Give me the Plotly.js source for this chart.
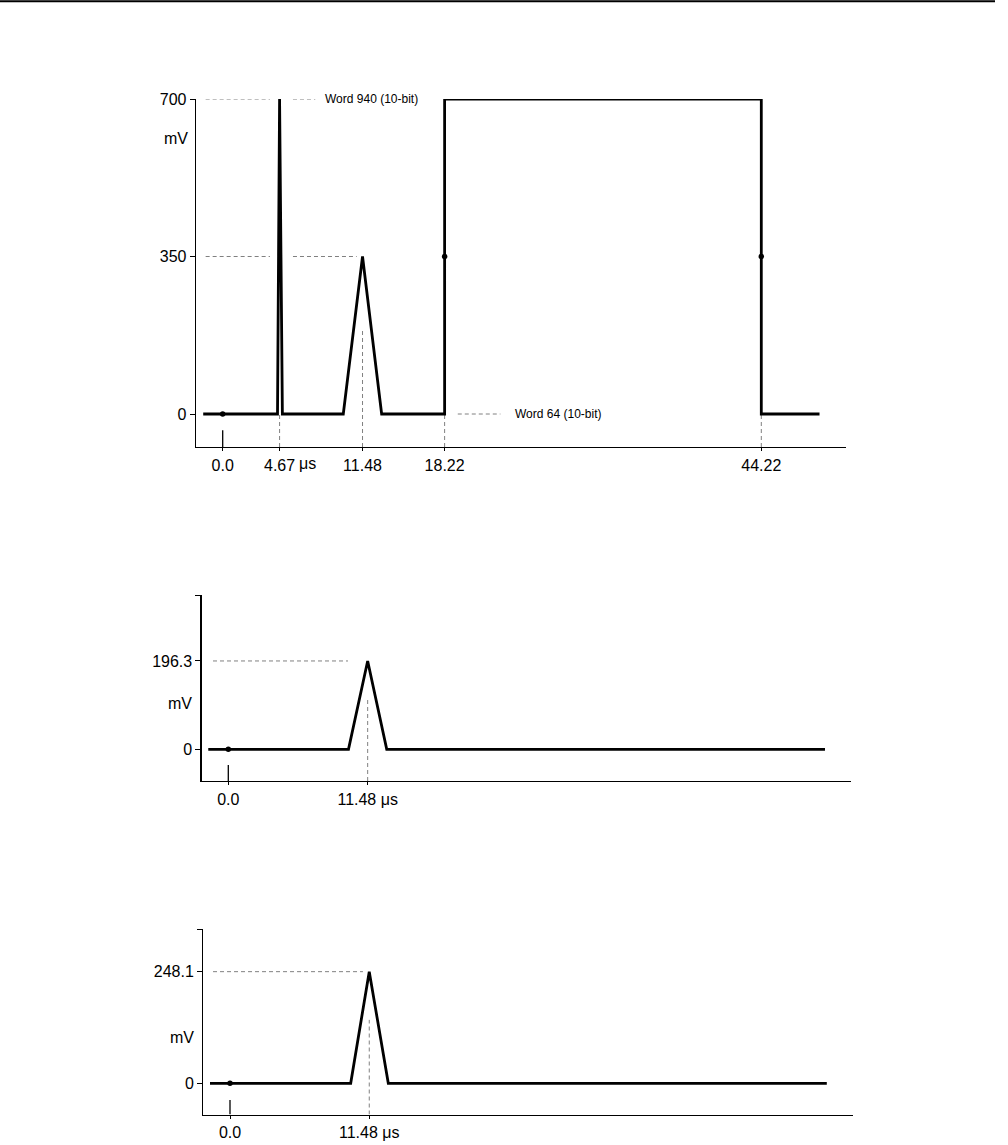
<!DOCTYPE html>
<html><head><meta charset="utf-8">
<script src="https://cdn.plot.ly/plotly-3.0.1.min.js"></script>
<style>html,body{margin:0;padding:0;background:#fff}</style>
</head><body><div id="chart" style="width:1008px;height:1145px"></div>
<script>
// ---------- data ----------
const topTime = [-1.6, 4.5, 4.67, 4.9, 9.9, 11.48, 13.05, 18.22, 18.22, 44.22, 44.22, 49.0];
const topMv   = [0, 0, 700, 0, 0, 350, 0, 0, 700, 700, 0, 0];
const topDotTime = [0, 18.22, 44.22];
const topDotMv   = [0, 350, 350];
const topXTicks  = [0, 4.67, 11.48, 18.22, 44.22];
const topXLabels = ['0.0', '4.67', '11.48', '18.22', '44.22'];
const topYTicks  = [0, 350, 700];
const topYLabels = ['0', '350', '700'];

const midTime = [-1.65, 9.9, 11.48, 13.05, 49.15];
const midMv   = [0, 0, 196.3, 0, 0];
const midDotTime = [0];
const midDotMv   = [0];
const midXTicks  = [0, 11.48];
const midXLabels = ['0.0', '11.48 μs'];
const midYTicks  = [0, 196.3];
const midYLabels = ['0', '196.3'];

const lowTime = [-1.65, 9.95, 11.48, 13.05, 49.2];
const lowMv   = [0, 0, 248.1, 0, 0];
const lowDotTime = [0];
const lowDotMv   = [0];
const lowXTicks  = [0, 11.48];
const lowXLabels = ['0.0', '11.48 μs'];
const lowYTicks  = [0, 248.1];
const lowYLabels = ['0', '248.1'];

const unitLabel = 'mV';
const word940 = 'Word 940 (10-bit)';
const word64  = 'Word 64 (10-bit)';

// ---------- layout geometry (pixels) ----------
const W = 1008, H = 1145;
const FONT = 'Liberation Sans, Arial, Helvetica, sans-serif';
const FS = 16;
function geom(g) {
  return {
    xdomain: [g.left / W, g.right / W],
    ydomain: [1 - g.bottom / H, 1 - g.top / H],
    xrange: [(g.left - g.x0) / g.xs, (g.right - g.x0) / g.xs],
    yrange: [(g.y0 - g.bottom) / g.ys, (g.y0 - g.top) / g.ys]
  };
}
const g1 = geom({left: 196, right: 845.7, top: 99, bottom: 447, x0: 222.7, y0: 414, xs: 12.18, ys: 0.45});
const g2 = geom({left: 201.7, right: 850.7, top: 595, bottom: 781, x0: 228.3, y0: 749.3, xs: 12.14, ys: 0.45});
const g3 = geom({left: 203.3, right: 852.7, top: 929.3, bottom: 1114.5, x0: 230, y0: 1083.3, xs: 12.13, ys: 0.45});

function xAxis(g, anchor, vals, text) {
  return {domain: g.xdomain, range: g.xrange, anchor: anchor, showgrid: false, zeroline: false,
    showline: true, linecolor: '#000', linewidth: 1.3, ticks: 'outside', ticklen: 3, tickwidth: 1,
    tickcolor: '#000', tickvals: vals, ticktext: text, tickfont: {family: FONT, size: FS, color: '#000'},
    fixedrange: true};
}
function yAxis(g, anchor, vals, text) {
  return {domain: g.ydomain, range: g.yrange, anchor: anchor, showgrid: false, zeroline: false,
    showline: true, linecolor: '#000', linewidth: 1.3, ticks: 'outside', ticklen: 5, tickwidth: 1,
    tickcolor: '#000', tickvals: vals, ticktext: text, tickfont: {family: FONT, size: FS, color: '#000'},
    fixedrange: true};
}

const lineStyle = {color: '#000', width: 2.8};
const dotStyle = {color: '#000', size: 5.5};
const traces = [
  {x: topTime, y: topMv, xaxis: 'x', yaxis: 'y', mode: 'lines', line: lineStyle, hoverinfo: 'skip'},
  {x: topDotTime, y: topDotMv, xaxis: 'x', yaxis: 'y', mode: 'markers', marker: dotStyle, hoverinfo: 'skip'},
  {x: midTime, y: midMv, xaxis: 'x2', yaxis: 'y2', mode: 'lines', line: lineStyle, hoverinfo: 'skip'},
  {x: midDotTime, y: midDotMv, xaxis: 'x2', yaxis: 'y2', mode: 'markers', marker: dotStyle, hoverinfo: 'skip'},
  {x: lowTime, y: lowMv, xaxis: 'x3', yaxis: 'y3', mode: 'lines', line: lineStyle, hoverinfo: 'skip'},
  {x: lowDotTime, y: lowDotMv, xaxis: 'x3', yaxis: 'y3', mode: 'markers', marker: dotStyle, hoverinfo: 'skip'}
];

const DASH = {color: '#808080', width: 1, dash: '4px,3px'};
function dl(xr, yr, x0, y0, x1, y1) {
  return {type: 'line', xref: xr, yref: yr, x0: x0, y0: y0, x1: x1, y1: y1, line: DASH, layer: 'below'};
}
function sl(xr, yr, x0, y0, x1, y1) {
  return {type: 'line', xref: xr, yref: yr, x0: x0, y0: y0, x1: x1, y1: y1, line: {color: '#000', width: 1.3}};
}
const shapes = [
  // header rule
  {type: 'line', xref: 'paper', yref: 'paper', x0: 0, x1: 995 / W, y0: 1 - 1.2 / H, y1: 1 - 1.2 / H, line: {color: '#000', width: 2}},
  // top chart
  dl('x', 'y', -1.4, topYTicks[2], 3.88, topYTicks[2]),
  dl('x', 'y', 5.77, topYTicks[2], 7.6, topYTicks[2]),
  dl('x', 'y', -1.4, topYTicks[1], 3.88, topYTicks[1]),
  dl('x', 'y', 5.77, topYTicks[1], 11.0, topYTicks[1]),
  dl('x', 'y', 19.3, 0, 22.8, 0),
  dl('x', 'y', topXTicks[1], g1.yrange[0], topXTicks[1], 0),
  dl('x', 'y', topXTicks[2], g1.yrange[0], topXTicks[2], 187),
  dl('x', 'y', topXTicks[3], g1.yrange[0], topXTicks[3], 0),
  dl('x', 'y', topXTicks[4], g1.yrange[0], topXTicks[4], 0),
  sl('x', 'y', topXTicks[0], g1.yrange[0], topXTicks[0], -36),
  // middle chart
  dl('x2', 'y2', -1.26, midYTicks[1], 9.86, midYTicks[1]),
  dl('x2', 'y2', midXTicks[1], g2.yrange[0], midXTicks[1], 114),
  sl('x2', 'y2', midXTicks[0], g2.yrange[0], midXTicks[0], -35),
  // bottom chart
  dl('x3', 'y3', -1.4, lowYTicks[1], 10.96, lowYTicks[1]),
  dl('x3', 'y3', lowXTicks[1], g3.yrange[0], lowXTicks[1], 141),
  sl('x3', 'y3', lowXTicks[0], g3.yrange[0], lowXTicks[0], -37)
];

const annotations = [
  {xref: 'x', yref: 'y', x: 8.2, y: topYTicks[2], text: word940, showarrow: false, xanchor: 'left', yanchor: 'middle',
   font: {family: FONT, size: 12, color: '#000'}},
  {xref: 'x', yref: 'y', x: 23.8, y: 0, text: word64, showarrow: false, xanchor: 'left', yanchor: 'middle',
   font: {family: FONT, size: 12, color: '#000'}},
  {xref: 'x', yref: 'paper', x: topXTicks[1], y: 1 - 463 / H, xshift: 17, text: 'μs', showarrow: false,
   xanchor: 'left', yanchor: 'middle', font: {family: FONT, size: FS, color: '#000'}},
  {xref: 'paper', yref: 'paper', x: 175.5 / W, y: 1 - 138 / H, text: unitLabel, showarrow: false,
   xanchor: 'center', yanchor: 'middle', font: {family: FONT, size: FS, color: '#000'}},
  {xref: 'paper', yref: 'paper', x: 180 / W, y: 1 - 703 / H, text: unitLabel, showarrow: false,
   xanchor: 'center', yanchor: 'middle', font: {family: FONT, size: FS, color: '#000'}},
  {xref: 'paper', yref: 'paper', x: 181.5 / W, y: 1 - 1037 / H, text: unitLabel, showarrow: false,
   xanchor: 'center', yanchor: 'middle', font: {family: FONT, size: FS, color: '#000'}}
];

const layout = {
  width: W, height: H, margin: {l: 0, r: 0, t: 0, b: 0, pad: 0},
  paper_bgcolor: '#fff', plot_bgcolor: '#fff', showlegend: false,
  font: {family: FONT, color: '#000'},
  xaxis: xAxis(g1, 'y', topXTicks, topXLabels),
  yaxis: yAxis(g1, 'x', topYTicks, topYLabels),
  xaxis2: xAxis(g2, 'y2', midXTicks, midXLabels),
  yaxis2: yAxis(g2, 'x2', midYTicks.concat([g2.yrange[1]]), midYLabels.concat([''])),
  xaxis3: xAxis(g3, 'y3', lowXTicks, lowXLabels),
  yaxis3: yAxis(g3, 'x3', lowYTicks.concat([g3.yrange[1]]), lowYLabels.concat([''])),
  shapes: shapes, annotations: annotations
};
Plotly.newPlot('chart', traces, layout, {displayModeBar: false, staticPlot: true});
</script></body></html>
